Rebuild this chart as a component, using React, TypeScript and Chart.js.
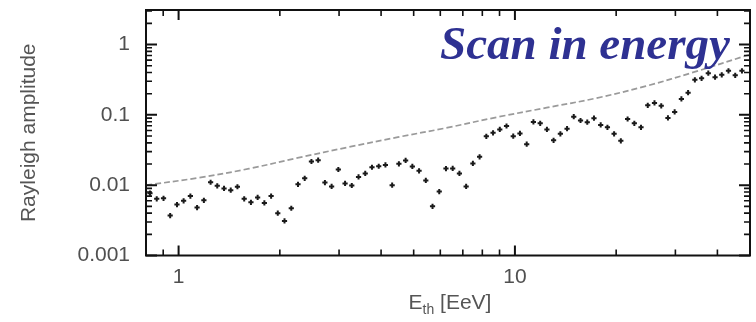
import React, { useEffect, useRef } from "react";
import { Chart, registerables } from "chart.js";

Chart.register(...registerables);

const energies = [
  0.822, 0.861, 0.902, 0.944, 0.989, 1.035, 1.084, 1.135, 1.189, 1.245,
  1.303, 1.365, 1.429, 1.496, 1.567, 1.641, 1.718, 1.799, 1.884, 1.972,
  2.065, 2.163, 2.265, 2.371, 2.483, 2.6, 2.723, 2.851, 2.985, 3.126,
  3.273, 3.428, 3.589, 3.758, 3.936, 4.121, 4.315, 4.519, 4.732, 4.955,
  5.188, 5.433, 5.689, 5.957, 6.237, 6.531, 6.839, 7.161, 7.499, 7.852,
  8.222, 8.61, 9.016, 9.441, 9.886, 10.35, 10.84, 11.35, 11.89, 12.45,
  13.03, 13.65, 14.29, 14.96, 15.67, 16.41, 17.18, 17.99, 18.84, 19.72,
  20.65, 21.63, 22.65, 23.71, 24.83, 26.0, 27.23, 28.51, 29.85, 31.26,
  32.73, 34.28, 35.89, 37.58, 39.36, 41.21, 43.15, 45.19, 47.32,
];

const amplitudes = [
  0.0077, 0.0064, 0.0065, 0.0037, 0.0053, 0.006, 0.007, 0.0048, 0.0061, 0.011,
  0.0098, 0.009, 0.0085, 0.0095, 0.0064, 0.0057, 0.0067, 0.0056, 0.007, 0.004,
  0.0031, 0.0047, 0.0103, 0.0125, 0.0217, 0.0227, 0.0109, 0.0096, 0.0167, 0.0106,
  0.0099, 0.0131, 0.0147, 0.018, 0.0186, 0.0194, 0.01, 0.0201, 0.0225, 0.0185,
  0.016, 0.0117, 0.005, 0.0081, 0.0172, 0.0173, 0.0147, 0.0096, 0.0204, 0.0253,
  0.0495, 0.0555, 0.062, 0.0695, 0.0498, 0.0544, 0.0383, 0.0793, 0.0757, 0.062,
  0.0434, 0.0537, 0.0637, 0.0943, 0.0832, 0.0788, 0.0898, 0.0719, 0.0664, 0.0537,
  0.0427, 0.0874, 0.0757, 0.0664, 0.1365, 0.1477, 0.1343, 0.0904, 0.11, 0.1684,
  0.207, 0.3148, 0.3306, 0.392, 0.3438, 0.3707, 0.4225, 0.3647, 0.4225,
];

const thresholdEnergies = [0.8, 1.153, 1.62, 2.275, 3.195, 4.487, 6.3, 8.85, 12.43, 17.46, 24.5, 34.4, 50];
const thresholdAmplitudes = [0.01, 0.01278, 0.01717, 0.02461, 0.03471, 0.04817, 0.06576, 0.09275, 0.1266, 0.1728, 0.256, 0.4116, 0.725];

const xTickValues = [1, 10];
const xTickLabels = ["1", "10"];
const yTickValues = [0.001, 0.01, 0.1, 1];
const yTickLabels = ["0.001", "0.01", "0.1", "1"];
const xMinorTicks = [0.9, 2, 3, 4, 5, 6, 7, 8, 9, 20, 30, 40];
const yMinorTicks = [
  0.002, 0.003, 0.004, 0.005, 0.006, 0.007, 0.008, 0.009,
  0.02, 0.03, 0.04, 0.05, 0.06, 0.07, 0.08, 0.09,
  0.2, 0.3, 0.4, 0.5, 0.6, 0.7, 0.8, 0.9,
  2, 3,
];

const yTitle = "Rayleigh amplitude";
const xTitleMain = "E";
const xTitleSub = "th";
const xTitleRest = " [EeV]";
const overlayText = "Scan in energy";

const SANS = '"Liberation Sans", Arial, sans-serif';

const framePlugin = {
  id: "framePlugin",
  afterDraw(chart: any) {
    const { ctx, chartArea, scales } = chart;
    const { left, right, top, bottom } = chartArea;
    const xs = scales.x;
    const ys = scales.y;
    ctx.save();
    ctx.strokeStyle = "#111";
    ctx.lineCap = "butt";

    const xTick = (v: number, len: number, w: number) => {
      const px = xs.getPixelForValue(v);
      ctx.lineWidth = w;
      ctx.beginPath();
      ctx.moveTo(px, bottom);
      ctx.lineTo(px, bottom - len);
      ctx.moveTo(px, top);
      ctx.lineTo(px, top + len);
      ctx.stroke();
    };
    const yTick = (v: number, len: number, w: number) => {
      const py = ys.getPixelForValue(v);
      ctx.lineWidth = w;
      ctx.beginPath();
      ctx.moveTo(left, py);
      ctx.lineTo(left + len, py);
      ctx.moveTo(right, py);
      ctx.lineTo(right - len, py);
      ctx.stroke();
    };
    xMinorTicks.forEach((v) => xTick(v, 6, 1.6));
    xTickValues.forEach((v) => xTick(v, 10, 2));
    yMinorTicks.forEach((v) => yTick(v, 6, 1.6));
    yTickValues.forEach((v) => yTick(v, 11, 2));

    ctx.lineWidth = 2;
    ctx.strokeRect(left, top, right - left, bottom - top);

    // x-axis title with subscript
    ctx.fillStyle = "#555";
    ctx.textBaseline = "alphabetic";
    const mainFont = `21px ${SANS}`;
    const subFont = `14px ${SANS}`;
    ctx.font = mainFont;
    const wE = ctx.measureText(xTitleMain).width;
    const wR = ctx.measureText(xTitleRest).width;
    ctx.font = subFont;
    const wS = ctx.measureText(xTitleSub).width;
    const total = wE + wS + wR;
    const cx = (left + right) / 2 + 2;
    let sx = cx - total / 2;
    const base = 309;
    ctx.font = mainFont;
    ctx.fillText(xTitleMain, sx, base);
    sx += wE;
    ctx.font = subFont;
    ctx.fillText(xTitleSub, sx, base + 5);
    sx += wS;
    ctx.font = mainFont;
    ctx.fillText(xTitleRest, sx, base);

    // overlay label
    ctx.font = `italic bold 47px "Liberation Serif", "Times New Roman", serif`;
    ctx.fillStyle = "#2e3192";
    ctx.fillText(overlayText, 440, 59);
    ctx.restore();
  },
};

const noPad = (s: any) => {
  s.paddingTop = 0;
  s.paddingBottom = 0;
  s.paddingLeft = 0;
  s.paddingRight = 0;
};

export default function App() {
  const ref = useRef<HTMLCanvasElement | null>(null);
  useEffect(() => {
    if (!ref.current) return;
    const points = energies.map((e, i) => ({ x: e, y: amplitudes[i] }));
    const curve = thresholdEnergies.map((e, i) => ({ x: e, y: thresholdAmplitudes[i] }));
    const chart = new Chart(ref.current, {
      type: "scatter",
      data: {
        datasets: [
          {
            label: "Rayleigh amplitude",
            data: points,
            pointStyle: "cross",
            pointRadius: 2.6,
            pointBorderWidth: 2,
            borderColor: "#1a1a1a",
            backgroundColor: "#1a1a1a",
            showLine: false,
          },
          {
            label: "99% threshold",
            data: curve,
            showLine: true,
            pointRadius: 0,
            borderColor: "#9a9a9a",
            borderWidth: 1.7,
            borderDash: [6, 3],
            tension: 0.35,
            fill: false,
          },
        ],
      },
      options: {
        responsive: false,
        animation: false,
        devicePixelRatio: 1,
        layout: { padding: { top: 10, right: 1, left: 0, bottom: 0 } },
        plugins: {
          legend: { display: false },
          tooltip: { enabled: false },
        },
        scales: {
          x: {
            type: "logarithmic",
            min: 0.8,
            max: 50,
            grid: { display: false, drawTicks: false },
            border: { display: false },
            afterFit: (s: any) => {
              s.height = 66.5;
              noPad(s);
            },
            afterBuildTicks: (s: any) => {
              s.ticks = xTickValues.map((v) => ({ value: v }));
            },
            ticks: {
              autoSkip: false,
              maxRotation: 0,
              padding: 9,
              color: "#505050",
              font: { family: SANS, size: 21 },
              callback: (v: any) => {
                const i = xTickValues.findIndex((t) => Math.abs(t - Number(v)) < 1e-9);
                return i >= 0 ? xTickLabels[i] : "";
              },
            },
          },
          y: {
            type: "logarithmic",
            min: 0.001,
            max: 3.1,
            grid: { display: false, drawTicks: false },
            border: { display: false },
            afterFit: (s: any) => {
              s.width = 146;
              noPad(s);
            },
            afterBuildTicks: (s: any) => {
              s.ticks = yTickValues.map((v) => ({ value: v }));
            },
            title: {
              display: true,
              text: yTitle,
              color: "#555",
              font: { family: SANS, size: 21 },
              padding: { top: 17, bottom: 0 },
            },
            ticks: {
              autoSkip: false,
              padding: 16,
              color: "#505050",
              font: { family: SANS, size: 21 },
              callback: (v: any) => {
                const i = yTickValues.findIndex((t) => Math.abs(t - Number(v)) < 1e-12);
                return i >= 0 ? yTickLabels[i] : "";
              },
            },
          },
        },
      },
      plugins: [framePlugin],
    });
    return () => chart.destroy();
  }, []);
  return (
    <div style={{ position: "absolute", left: 0, top: 0, width: 756, height: 322, background: "#fff" }}>
      <canvas ref={ref} width={756} height={322} style={{ display: "block" }} />
    </div>
  );
}
